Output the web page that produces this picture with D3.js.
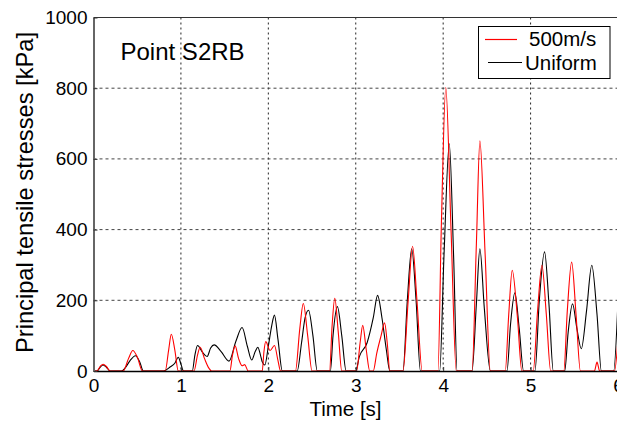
<!DOCTYPE html>
<html>
<head>
  <meta charset="utf-8">
  <style>
    body { margin: 0; background: #fff; }
    svg { display: block; font-family: "Liberation Sans", Arial, sans-serif; }
  </style>
  <title>Point S2RB</title>
</head>
<body>
  <script src="https://cdn.jsdelivr.net/npm/d3@7"></script>
  <script>
    // ticks
    const xTicks = [0, 1, 2, 3, 4, 5, 6];
    const yTicks = [0, 200, 400, 600, 800, 1000];

    // 500m/s series (red): time [s], stress [kPa]
    const t500 = [0, 0.04, 0.08, 0.11, 0.15, 0.19, 0.34, 0.40, 0.45, 0.50, 0.56,
      0.82, 0.86, 0.89, 0.93, 0.97, 1.15, 1.19, 1.22, 1.27, 1.32, 1.35,
      1.56, 1.59, 1.62, 1.66, 1.70, 1.73, 1.77, 1.93, 1.95, 1.97, 2.02, 2.07, 2.11, 2.14,
      2.31, 2.36, 2.40, 2.45, 2.50, 2.70, 2.73, 2.76, 2.80, 2.84,
      3.01, 3.05, 3.08, 3.12, 3.16, 3.20, 3.24, 3.29, 3.33, 3.36, 3.39,
      3.54, 3.60, 3.65, 3.70, 3.76, 3.94, 3.98, 4.03, 4.09, 4.15,
      4.33, 4.38, 4.42, 4.48, 4.54, 4.71, 4.75, 4.79, 4.85, 4.90,
      5.03, 5.08, 5.13, 5.18, 5.23, 5.38, 5.42, 5.47, 5.52, 5.57,
      5.73, 5.76, 5.79, 5.96, 6.0];
    const v500 = [0, 0, 14, 19, 12, 0, 0, 35, 58, 40, 0,
      0, 60, 104, 60, 0, 0, 45, 67, 35, 8, 0,
      0, 45, 71, 35, 15, 18, 0, 0, 55, 83, 58, 72, 30, 0,
      0, 120, 191, 100, 0, 0, 130, 206, 110, 0,
      0, 80, 129, 60, 0, 0, 50, 100, 136, 80, 0,
      0, 200, 353, 200, 0, 0, 420, 802, 400, 0,
      0, 360, 651, 330, 0, 0, 160, 285, 150, 0,
      0, 170, 299, 160, 0, 0, 170, 308, 160, 0,
      0, 25, 0, 0, 90];

    // Uniform series (black)
    const tUni = [0, 0.04, 0.08, 0.11, 0.15, 0.19, 0.32, 0.36, 0.42, 0.48, 0.53, 0.57,
      0.80, 0.88, 0.93, 0.97, 1.00, 1.03, 1.13, 1.16, 1.19, 1.25, 1.30, 1.34, 1.38, 1.46,
      1.55, 1.63, 1.70, 1.76, 1.81, 1.85, 1.88, 1.91, 1.93, 1.96, 2.00, 2.04, 2.07, 2.11, 2.16,
      2.33, 2.38, 2.42, 2.46, 2.51, 2.56, 2.71, 2.74, 2.79, 2.84, 2.89,
      3.00, 3.04, 3.13, 3.20, 3.25, 3.30, 3.35, 3.39,
      3.54, 3.59, 3.64, 3.69, 3.74, 3.96, 4.01, 4.07, 4.12, 4.16,
      4.33, 4.38, 4.42, 4.47, 4.54, 4.73, 4.77, 4.82, 4.87, 4.92,
      5.05, 5.10, 5.16, 5.21, 5.26, 5.39, 5.43, 5.48, 5.53, 5.58, 5.64, 5.70, 5.76, 5.81,
      5.95, 6.0];
    const vUni = [0, 0, 12, 17, 10, 0, 0, 8, 30, 43, 25, 0,
      0, 12, 22, 39, 20, 0, 0, 45, 72, 52, 41, 65, 74, 55,
      28, 85, 123, 70, 31, 55, 67, 45, 26, 17, 70, 130, 158, 90, 0,
      0, 80, 150, 172, 100, 0, 0, 100, 182, 100, 0,
      0, 40, 80, 150, 214, 150, 60, 0,
      0, 200, 346, 200, 0, 0, 330, 643, 320, 0,
      0, 190, 346, 180, 0, 0, 130, 221, 120, 0,
      0, 200, 337, 190, 0, 0, 110, 190, 120, 63, 170, 299, 160, 0,
      0, 200];

    const W = 617, H = 421;
    const margin = { top: 17.5, left: 93.5 };
    const plotW = 524.5, plotH = 353.5;

    const svg = d3.select("body").append("svg")
      .attr("width", W).attr("height", H);

    const g = svg.append("g")
      .attr("transform", `translate(${margin.left},${margin.top})`);

    const x = d3.scaleLinear().domain([0, 6]).range([0, plotW]);
    const y = d3.scaleLinear().domain([0, 1000]).range([plotH, 0]);

    // grid
    g.selectAll(".vgrid").data(xTicks.slice(1, -1)).enter().append("line")
      .attr("x1", d => x(d)).attr("x2", d => x(d))
      .attr("y1", 0).attr("y2", plotH)
      .attr("stroke", "#222").attr("stroke-dasharray", "2,3");
    g.selectAll(".hgrid").data(yTicks.slice(1, -1)).enter().append("line")
      .attr("x1", 0).attr("x2", plotW)
      .attr("y1", d => y(d)).attr("y2", d => y(d))
      .attr("stroke", "#444").attr("stroke-dasharray", "3,3");

    // top border
    g.append("line").attr("x1", 0).attr("x2", plotW).attr("y1", 0).attr("y2", 0)
      .attr("stroke", "#333").attr("stroke-width", 1);

    // lines
    const line = d3.line().x(d => x(d[0])).y(d => y(d[1])).curve(d3.curveMonotoneX);
    const dataUni = tUni.map((t, i) => [t, vUni[i]]);
    const data500 = t500.map((t, i) => [t, v500[i]]);

    g.append("path").datum(dataUni).attr("d", line)
      .attr("fill", "none").attr("stroke", "#000").attr("stroke-width", 1.1);
    g.append("path").datum(data500).attr("d", line)
      .attr("fill", "none").attr("stroke", "#ff0000").attr("stroke-width", 1.1);

    // axes
    const xAxis = g.append("g").attr("transform", `translate(0,${plotH})`)
      .call(d3.axisBottom(x).tickValues(xTicks).tickFormat(d3.format("d"))
        .tickSize(-4).tickSizeOuter(0).tickPadding(8));
    const yAxis = g.append("g")
      .call(d3.axisLeft(y).tickValues(yTicks).tickFormat(d3.format("d"))
        .tickSize(-4).tickSizeOuter(0).tickPadding(6));

    [xAxis, yAxis].forEach(a => {
      a.selectAll("text").attr("font-size", 19).attr("fill", "#000")
        .attr("font-family", "Liberation Sans, Arial, sans-serif");
      a.selectAll(".tick line").attr("stroke", "#333");
    });
    xAxis.select(".domain").attr("stroke", "#000").attr("stroke-width", 1.5);
    yAxis.select(".domain").attr("stroke", "#666").attr("stroke-width", 2);

    // labels
    svg.append("text").attr("x", 345.5).attr("y", 416)
      .attr("text-anchor", "middle").attr("font-size", 20.5).text("Time [s]");

    svg.append("text")
      .attr("transform", "translate(33,192.5) rotate(-90)")
      .attr("text-anchor", "middle").attr("font-size", 24)
      .attr("textLength", 321).attr("lengthAdjust", "spacingAndGlyphs")
      .text("Principal tensile stresses [kPa]");

    svg.append("text").attr("x", 120.5).attr("y", 59.5)
      .attr("font-size", 24).text("Point S2RB");

    // legend
    const leg = svg.append("g");
    leg.append("rect").attr("x", 478.5).attr("y", 26.5).attr("width", 131.5).attr("height", 52)
      .attr("fill", "#fff").attr("stroke", "#000").attr("stroke-width", 1);
    leg.append("line").attr("x1", 485).attr("x2", 517).attr("y1", 39.5).attr("y2", 39.5)
      .attr("stroke", "#ff0000").attr("stroke-width", 1.2);
    leg.append("text").attr("x", 529).attr("y", 46).attr("font-size", 20.5).text("500m/s");
    leg.append("line").attr("x1", 488).attr("x2", 522).attr("y1", 62.5).attr("y2", 62.5)
      .attr("stroke", "#000").attr("stroke-width", 1.2);
    leg.append("text").attr("x", 525).attr("y", 69.5).attr("font-size", 20.5).text("Uniform");
  </script>
</body>
</html>
